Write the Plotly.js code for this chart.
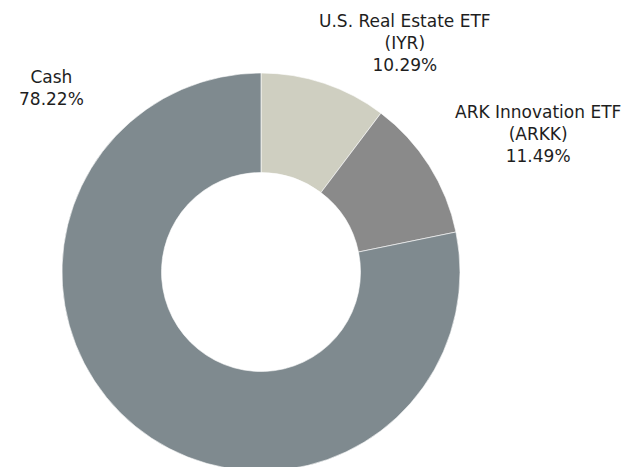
<!DOCTYPE html>
<html>
<head>
<meta charset="utf-8">
<script src="https://cdn.plot.ly/plotly-3.0.1.min.js"></script>
<style>
html,body{margin:0;padding:0;overflow:hidden;background:#fff;width:628px;height:467px;}
#chart{width:628px;height:480px;}
</style>
</head>
<body>
<div id="chart"></div>
<script>
var labels = ["U.S. Real Estate ETF<br>(IYR)", "ARK Innovation ETF<br>(ARKK)", "Cash"];
var values = [10.29, 11.49, 78.22];
var colors = ["#cfcfc1", "#8a8a8a", "#7f8a8f"];

var W = 628, H = 480;
function px(x){ return x / W; }
function py(y){ return (H - y) / H; }

// label block centres (pixels)
var labelPos = [[405, 43], [538, 134], [51, 88]];

var annotations = labels.map(function(l, i){
  return {
    text: l + "<br>" + values[i].toFixed(2) + "%",
    xref: "paper", yref: "paper",
    x: px(labelPos[i][0]), y: py(labelPos[i][1]),
    xanchor: "center", yanchor: "middle",
    showarrow: false, align: "center",
    font: {family: "DejaVu Sans, Verdana, sans-serif", size: 17, color: "#1e1e1e"}
  };
});

var data = [{
  type: "pie",
  labels: labels,
  values: values,
  hole: 0.5,
  sort: false,
  direction: "clockwise",
  rotation: 0,
  textinfo: "none",
  hoverinfo: "none",
  marker: {colors: colors, line: {color: "#ffffff", width: 0.6}},
  domain: {x: [px(62), px(460)], y: [py(471), py(73)]}
}];

var layout = {
  width: W, height: H,
  margin: {l: 0, r: 0, t: 0, b: 0},
  paper_bgcolor: "#ffffff",
  showlegend: false,
  annotations: annotations
};

Plotly.newPlot("chart", data, layout, {displayModeBar: false, staticPlot: true});
</script>
</body>
</html>
